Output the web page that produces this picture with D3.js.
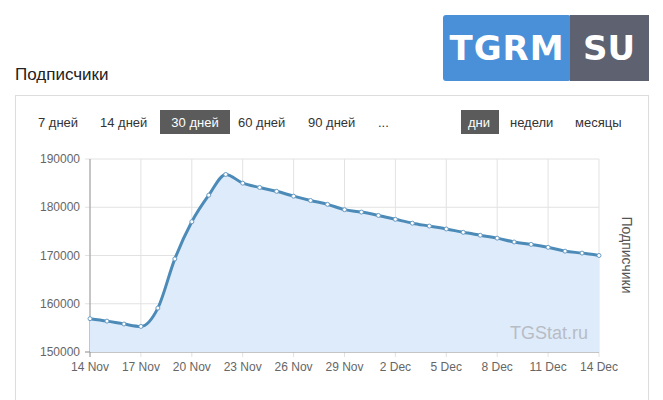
<!DOCTYPE html>
<html><head><meta charset="utf-8">
<script src="https://cdn.jsdelivr.net/npm/d3@7"></script>
<style>body{margin:0;background:#fff;font-family:"Liberation Sans",Arial,sans-serif}</style>
</head><body><svg id="c" width="663" height="400"></svg>
<script>
const dates = ["14 Nov","15 Nov","16 Nov","17 Nov","18 Nov","19 Nov","20 Nov","21 Nov","22 Nov","23 Nov","24 Nov","25 Nov","26 Nov","27 Nov","28 Nov","29 Nov","30 Nov","1 Dec","2 Dec","3 Dec","4 Dec","5 Dec","6 Dec","7 Dec","8 Dec","9 Dec","10 Dec","11 Dec","12 Dec","13 Dec","14 Dec"];
const subscribers = [156900,156400,155800,155300,159100,169300,177000,182500,186800,185000,184100,183300,182300,181400,180600,179500,179000,178300,177500,176700,176100,175500,174800,174200,173600,172800,172300,171700,170900,170500,170000];
const yTicks = [150000,160000,170000,180000,190000];
const periodButtons = ["7 дней","14 дней","30 дней","60 дней","90 дней","..."];
const unitButtons = ["дни","недели","месяцы"];

const svg = d3.select("#c");
svg.append("rect").attr("x",443).attr("y",15).attr("width",128).attr("height",66).attr("fill","#4a90d9").attr("rx",3);
svg.append("rect").attr("x",570).attr("y",15).attr("width",79).attr("height",66).attr("fill","#5d6170");
svg.append("text").attr("x",507).attr("y",60).attr("text-anchor","middle").attr("fill","#fff").attr("font-size",34).attr("font-weight","bold").attr("font-family","DejaVu Sans").attr("letter-spacing",1).text("TGRM");
svg.append("text").attr("x",609).attr("y",60).attr("text-anchor","middle").attr("fill","#fff").attr("font-size",34).attr("font-weight","bold").attr("font-family","DejaVu Sans").text("SU");

svg.append("text").attr("x",15).attr("y",80).attr("font-size",17).attr("fill","#222").text("Подписчики");
svg.append("rect").attr("x",15.5).attr("y",95.5).attr("width",633).attr("height",310).attr("fill","none").attr("stroke","#ddd");

const bx=[38,100,160,238,308,378];
periodButtons.forEach((t,i)=>{
  if(i===2) svg.append("rect").attr("x",160).attr("y",110).attr("width",70).attr("height",24).attr("fill","#5b5b5b");
  svg.append("text").attr("x",i===2?195:bx[i]).attr("y",127).attr("text-anchor",i===2?"middle":"start").attr("font-size",13).attr("fill",i===2?"#fff":"#333").text(t);
});
const ux=[479,510,575];
svg.append("rect").attr("x",461).attr("y",110).attr("width",38).attr("height",24).attr("fill","#5b5b5b");
unitButtons.forEach((t,i)=>{
  svg.append("text").attr("x",ux[i]).attr("y",127).attr("text-anchor",i===0?"middle":"start").attr("font-size",13).attr("fill",i===0?"#fff":"#333").text(t);
});

const x = d3.scalePoint().domain(dates).range([90,599]);
const y = d3.scaleLinear().domain([150000,190000]).range([352,159]);

const g = svg.append("g");
yTicks.forEach(v=>g.append("line").attr("x1",85).attr("x2",599).attr("y1",y(v)).attr("y2",y(v)).attr("stroke","#e2e2e2"));
dates.forEach((d,i)=>{ if(i%3===0) g.append("line").attr("x1",x(d)).attr("x2",x(d)).attr("y1",159).attr("y2",357).attr("stroke","#e2e2e2");});
g.append("line").attr("x1",90).attr("x2",90).attr("y1",159).attr("y2",357).attr("stroke","#999");
g.append("line").attr("x1",85).attr("x2",599).attr("y1",352).attr("y2",352).attr("stroke","#999");

const data = dates.map((d,i)=>({d,v:subscribers[i]}));
g.append("path").datum(data).attr("fill","#deebfb")
 .attr("d",d3.area().x(p=>x(p.d)).y0(352).y1(p=>y(p.v)).curve(d3.curveMonotoneX));
g.append("text").attr("x",588).attr("y",339).attr("text-anchor","end").attr("font-size",18).attr("fill","#b8bcc4").text("TGStat.ru");
g.append("path").datum(data).attr("fill","none").attr("stroke","#4c8bb7").attr("stroke-width",3)
 .attr("d",d3.line().x(p=>x(p.d)).y(p=>y(p.v)).curve(d3.curveMonotoneX));
g.selectAll("circle").data(data).join("circle").attr("cx",p=>x(p.d)).attr("cy",p=>y(p.v)).attr("r",2).attr("fill","#fff").attr("stroke","#6a9cc4").attr("stroke-width",1);

yTicks.forEach(v=>g.append("text").attr("x",80).attr("y",y(v)+4).attr("text-anchor","end").attr("font-size",12).attr("fill","#666").text(v));
dates.forEach((d,i)=>{ if(i%3===0) g.append("text").attr("x",x(d)).attr("y",371).attr("text-anchor","middle").attr("font-size",12).attr("fill","#666").text(d);});
g.append("text").attr("transform","translate(622,255) rotate(90)").attr("text-anchor","middle").attr("font-size",14).attr("fill","#555").text("Подписчики");
</script></body></html>
